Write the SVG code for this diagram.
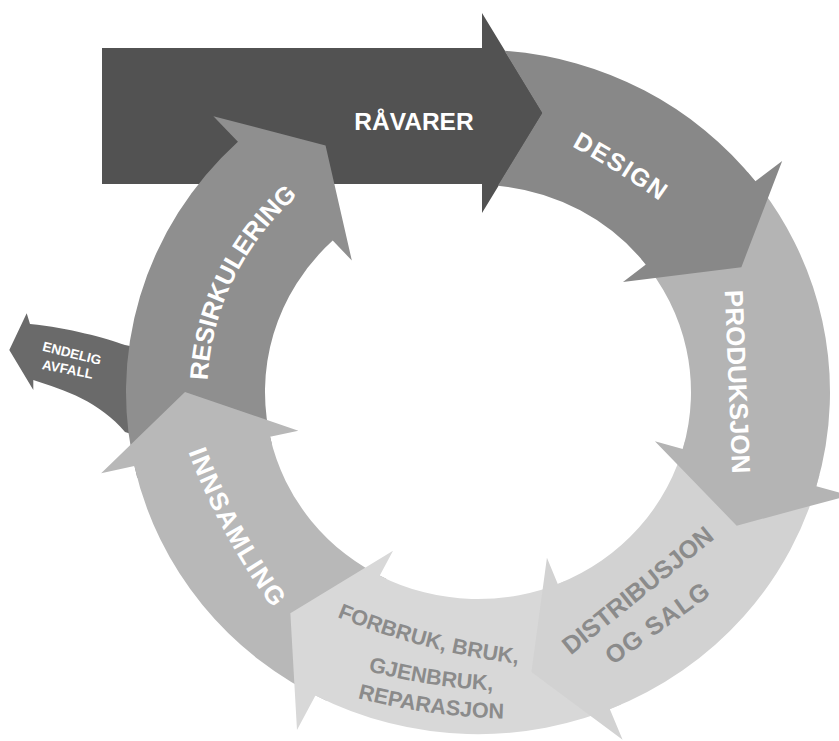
<svg xmlns="http://www.w3.org/2000/svg" width="839" height="741" viewBox="0 0 839 741">
  <style>
    text { font-family: "Liberation Sans", Arial, sans-serif; font-weight: 700; }
    .light { fill: #ffffff; }
    .dim { fill: #8b8b8b; }
  </style>
  <defs>
    <!-- baselines for the curved labels -->
    <path id="p-design" d="M 556.3,138.2 A 800 800 0 0 1 674.9,212.2"/>
    <path id="p-resirk" d="M 256.42,542.81 A 270.5 262.93 0 0 1 454.42,130.08"/>
    <path id="p-innsamling" d="M 181.4,432.8 A 660 660 0 0 0 285.8,625.4"/>
    <path id="p-forbruk1" d="M 313,606.4 A 680 680 0 0 0 544.2,666.2"/>
    <path id="p-forbruk2" d="M 333,660.3 A 600 600 0 0 0 529.6,691.3"/>
    <path id="p-forbruk3" d="M 332.5,691.1 A 650 650 0 0 0 529.7,718.7"/>
  </defs>
  <rect width="839" height="741" fill="#ffffff"/>

  <!-- exit arrow to final waste, tucked under the recycling band -->
  <g id="endelig-avfall">
    <path fill="#6a6a6a" d="M 150,350 L 125,345 C 105,338 70,328 30,324 L 26.7,313.3 L 9.3,350 L 33.3,390 L 33.3,380 C 65,390 100,402 125,432 L 150,440 Z"/>
    <text class="light" font-size="13.5" text-anchor="middle" transform="translate(70.8,357.8) rotate(14)">ENDELIG</text>
    <text class="light" font-size="13.5" text-anchor="middle" transform="translate(66.8,373.8) rotate(11)">AVFALL</text>
  </g>

  <!-- raw material input -->
  <g id="raavarer">
    <path fill="#525252" d="M 102,48 H 482 V 13 L 543,113 L 482,213 V 184 H 102 Z"/>
    <text class="light" x="414" y="130" font-size="24.5" text-anchor="middle">RÅVARER</text>
  </g>

  <!-- ring segments: drawn in local polar frame centred at (478,392) -->
  <g id="resirkulering">
    <path fill="#8f8f8f" transform="translate(478,392) scale(1,0.972)" d="M -340.79,88.13 A 352 352 0 0 1 -240.06,-257.44 L -264.62,-283.76 L -152.45,-253.72 L -126.17,-135.30 L -145.27,-155.78 A 213 213 0 0 0 -206.22,53.33 Z"/>
    <text class="light" font-size="25.5"><textPath href="#p-resirk" startOffset="50%" text-anchor="middle">RESIRKULERING</textPath></text>
  </g>

  <g id="innsamling">
    <path fill="#b8b8b8" transform="translate(478,392) scale(1,0.972)" d="M -151.54,317.71 A 352 352 0 0 1 -343.66,76.19 L -376.85,83.55 L -293,0 L -179.64,39.82 L -207.95,46.10 A 213 213 0 0 0 -91.70,192.25 Z"/>
    <text class="light" font-size="26" letter-spacing="1.5"><textPath href="#p-innsamling" startOffset="50%" text-anchor="middle">INNSAMLING</textPath></text>
  </g>

  <g id="forbruk">
    <path fill="#d8d8d8" transform="translate(478,392) scale(1,0.972)" d="M 143.17,321.57 A 352 352 0 0 1 -162.54,312.23 L -181.01,347.71 L -187.64,227.63 L -84.96,163.21 L -98.35,188.93 A 213 213 0 0 0 86.64,194.59 Z"/>
    <text class="dim" font-size="21.5"><textPath href="#p-forbruk1" startOffset="50%" text-anchor="middle">FORBRUK, BRUK,</textPath></text>
    <text class="dim" font-size="21.5"><textPath href="#p-forbruk2" startOffset="50%" text-anchor="middle">GJENBRUK,</textPath></text>
    <text class="dim" font-size="21.5"><textPath href="#p-forbruk3" startOffset="50%" text-anchor="middle">REPARASJON</textPath></text>
  </g>

  <g id="distribusjon">
    <path fill="#d2d2d2" transform="translate(478,392) scale(1,0.972)" d="M 341.54,85.16 A 352 352 0 0 1 131.86,326.37 L 144.60,357.89 L 53.40,288.09 L 68.93,170.60 L 79.79,197.49 A 213 213 0 0 0 206.67,51.53 Z"/>
    <text class="dim" font-size="25" text-anchor="middle" transform="translate(643,597) rotate(-39)">DISTRIBUSJON</text>
    <text class="dim" font-size="25" letter-spacing="1" text-anchor="middle" transform="translate(662.5,630) rotate(-35.5)">OG SALG</text>
  </g>

  <g id="produksjon">
    <path fill="#b4b4b4" transform="translate(478,392) scale(1,0.972)" d="M 269.65,-226.26 A 352 352 0 0 1 338.36,97.03 L 371.05,106.40 L 258.70,137.55 L 176.87,50.72 L 204.75,58.71 A 213 213 0 0 0 163.17,-136.91 Z"/>
    <text class="light" font-size="26" text-anchor="middle" transform="translate(728.5,382) rotate(87.6)">PRODUKSJON</text>
  </g>

  <g id="design">
    <path fill="#888888" transform="translate(478,392) scale(1,0.972)" d="M 26.5,-351.0 A 352 352 0 0 1 277.38,-216.71 L 304.17,-237.64 L 263.35,-128.44 L 144.99,-113.28 L 167.85,-131.14 A 213 213 0 0 0 19.9,-212.1 L 64.4,-287.0 Z"/>
    <text class="light" font-size="25" letter-spacing="1.5"><textPath href="#p-design" startOffset="50%" text-anchor="middle">DESIGN</textPath></text>
  </g>
</svg>
